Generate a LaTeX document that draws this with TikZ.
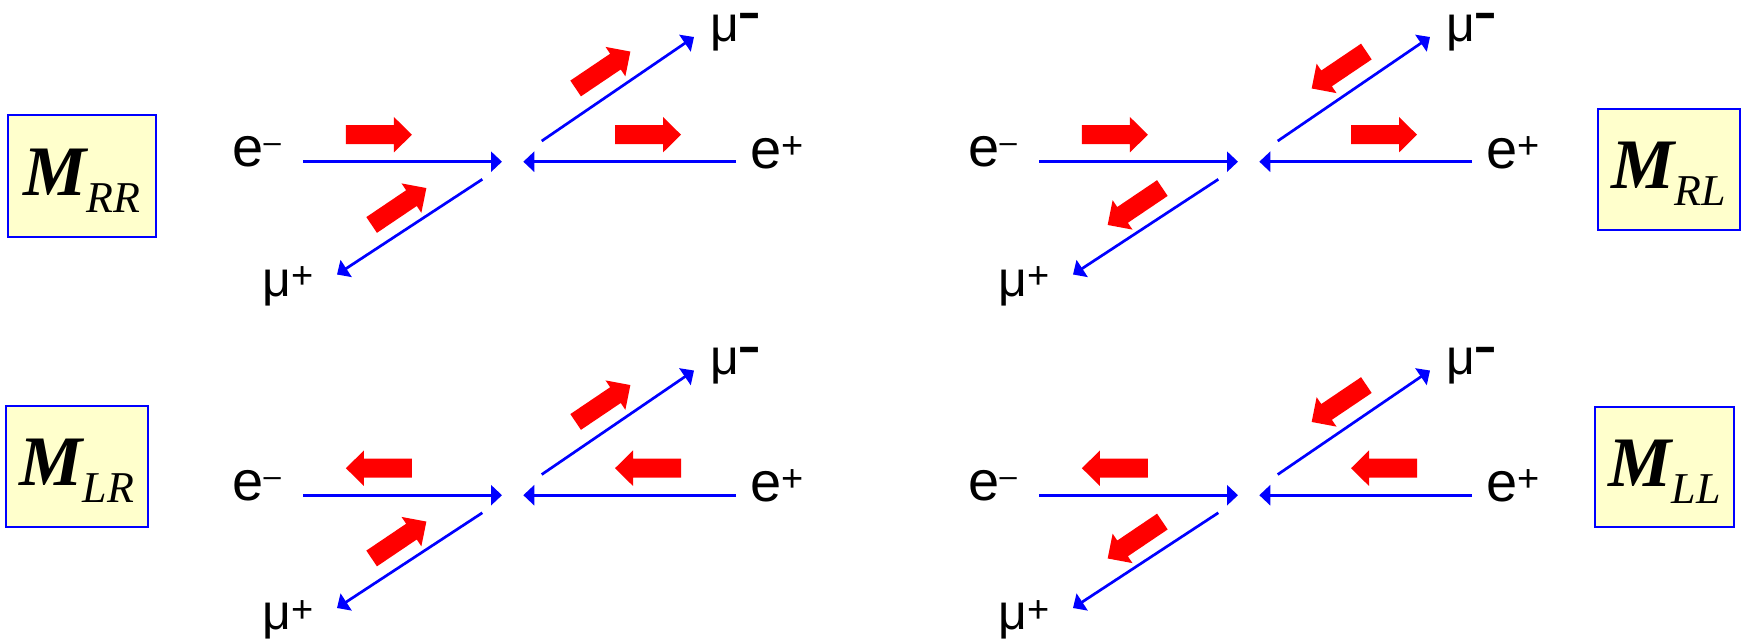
\documentclass[tikz,border=0pt]{standalone}
\usepackage{fontspec}
\setmainfont{Liberation Serif}
\newfontfamily\lsans{Liberation Sans}
\usetikzlibrary{arrows.meta}
\definecolor{boxfill}{RGB}{255,255,204}
\definecolor{pblue}{RGB}{0,0,255}
\definecolor{pred}{RGB}{255,0,0}
\tikzset{
  bline/.style={draw=pblue, line width=1.35pt, -{Triangle[length=5.5pt,width=10pt]}},
  lbl/.style={inner sep=0pt, anchor=base west, font=\lsans\fontsize{28}{30}\selectfont},
  mlbl/.style={inner sep=0pt, anchor=base west, font=\lsans\fontsize{25}{28}\selectfont},
  mbox/.style={draw=pblue, line width=1.4pt, fill=boxfill, inner sep=0pt},
}
\newcommand\supminus{\raisebox{7pt}{\fontsize{15.5}{16}\selectfont –}}
\newcommand\supplus{\raisebox{5pt}{\fontsize{19}{19}\selectfont +}}
\newcommand\musupplus{\raisebox{3.6pt}{\fontsize{19}{19}\selectfont +}}
\newcommand\mubar{\smash{\raisebox{5.2pt}{\fontsize{18}{18}\selectfont\scalebox{1}[1.5]{\bfseries –}}}}
\newcommand\mtxt[1]{\raisebox{0pt}[23.5pt][4.5pt]{{\fontsize{35.5}{36}\selectfont\bfseries\itshape M}\raisebox{-8.5pt}{\fontsize{22}{22}\selectfont\itshape #1}}}
\newcommand\redarrow[3]{%
  \fill[pred, shift={(#1,#2)}, rotate=#3] (-33,-9.5) -- (15,-9.5) -- (15,-17.75) -- (33,0) -- (15,17.75) -- (15,9.5) -- (-33,9.5) -- cycle;}
\newcommand\onediag[5]{%
  \begin{scope}[shift={(#1,#2)}]
    \node[lbl] (#3em) at (232,166.5) {e\supminus};
    \node[lbl] (#3ep) at (750,168) {e\supplus};
    \node[mlbl] (#3mm) at (710,41) {μ\mubar};
    \node[mlbl] (#3mp) at (262,296) {μ\musupplus};
    \coordinate (#3a1) at (303,161.7); \coordinate (#3a2) at (502,161.7);
    \coordinate (#3b1) at (736,161.7); \coordinate (#3b2) at (523.3,161.7);
    \coordinate (#3c1) at (541.7,141); \coordinate (#3c2) at (694,37);
    \coordinate (#3d1) at (482.3,179.3); \coordinate (#3d2) at (337,274.5);
    \draw[bline] (#3a1) -- (#3a2);
    \draw[bline] (#3b1) -- (#3b2);
    \draw[bline] (#3c1) -- (#3c2);
    \draw[bline] (#3d1) -- (#3d2);
    \redarrow{378.9}{134.7}{#4}
    \redarrow{648}{134.7}{#4}
    \redarrow{603}{70}{#5}
    \redarrow{399}{206.5}{#5}
  \end{scope}}
\begin{document}
\begin{tikzpicture}[x=0.5pt,y=-0.5pt]
  \useasboundingbox (0,0) rectangle (1743,639);
  \node[mbox, minimum width=74pt, minimum height=61pt] (bRR) at (82,176) {\mtxt{RR}};
  \node[mbox, minimum width=71pt, minimum height=60.5pt] (bRL) at (1669,169.5) {\mtxt{RL}};
  \node[mbox, minimum width=71pt, minimum height=60.5pt] (bLR) at (77,466.5) {\mtxt{LR}};
  \node[mbox, minimum width=69.5pt, minimum height=60pt] (bLL) at (1664.5,467) {\mtxt{LL}};
  \onediag{0}{0}{rr}{0}{34}
  \onediag{736}{0}{rl}{0}{214}
  \onediag{0}{333.5}{lr}{180}{34}
  \onediag{736}{333.5}{ll}{180}{214}
\end{tikzpicture}
\end{document}
